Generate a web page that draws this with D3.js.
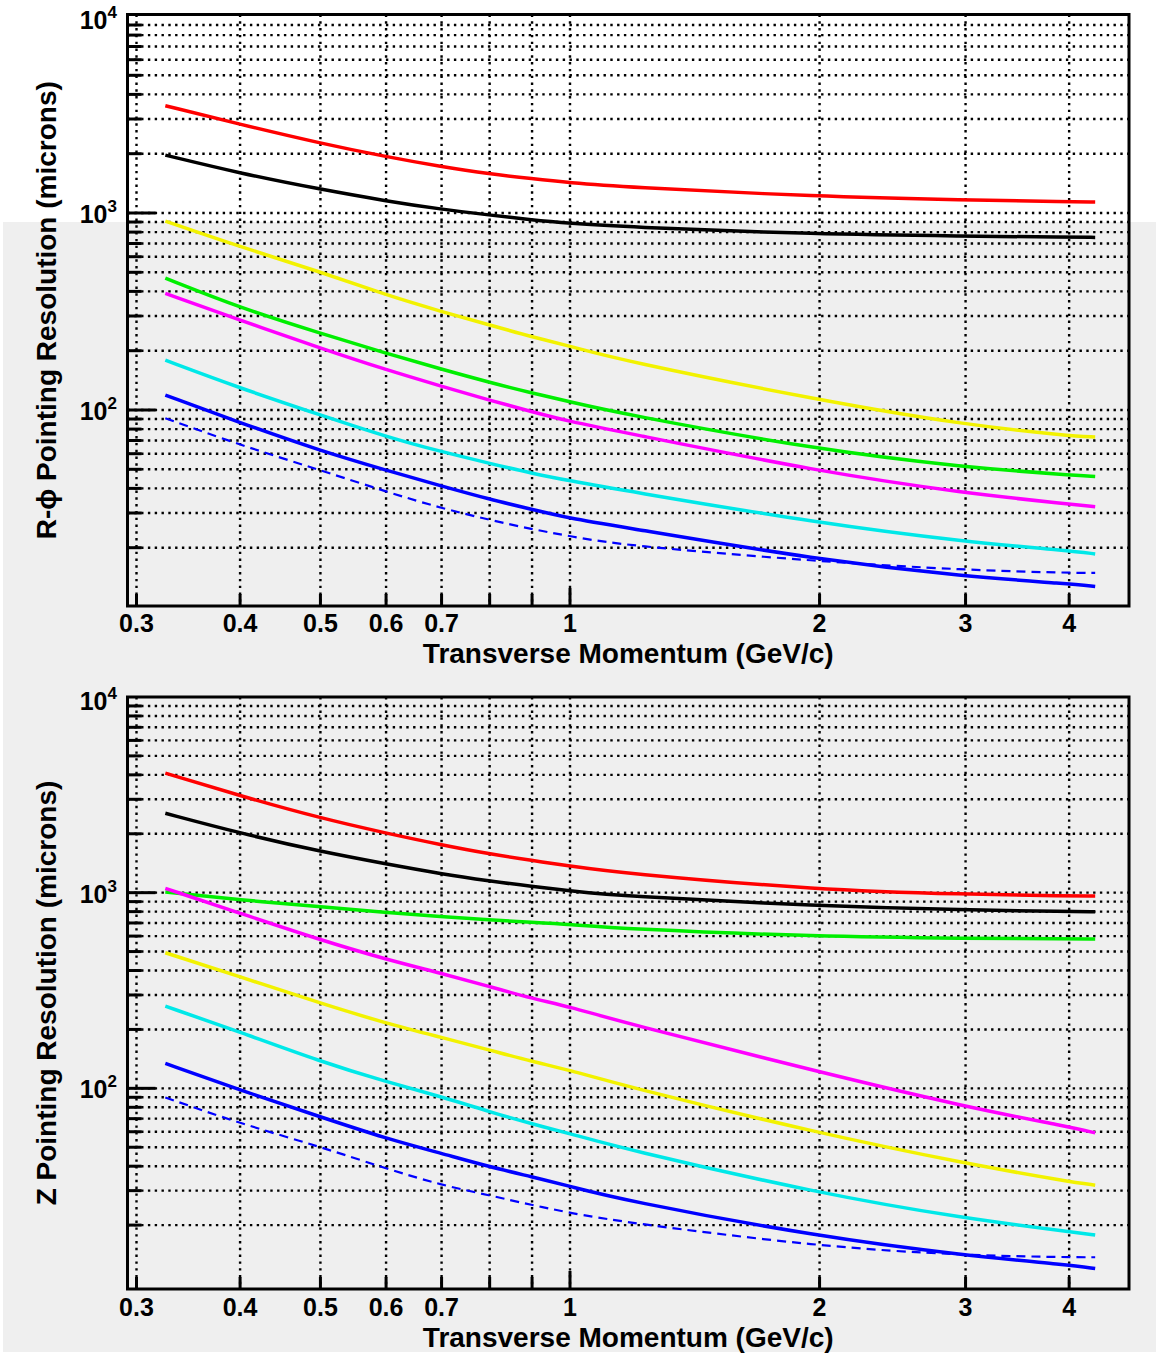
<!DOCTYPE html>
<html><head><meta charset="utf-8">
<script src="https://cdn.jsdelivr.net/npm/d3@7"></script>
<style>html,body{margin:0;padding:0;background:#fff}svg{display:block}</style>
</head><body>
<script>
// ---- data ----
const pT = [0.325, 0.4, 0.5, 0.6, 0.7, 0.8, 0.9, 1.0, 1.15, 2, 3, 4, 4.3];
const xTickValues = [0.3, 0.4, 0.5, 0.6, 0.7, 0.8, 0.9, 1, 2, 3, 4];
const xTickLabels = ["0.3", "0.4", "0.5", "0.6", "0.7", "", "", "1", "2", "3", "4"];
const yDecades = [100, 1000, 10000];
const yDecadeExp = ["2", "3", "4"];

// R-phi panel
const rphiRed     = [3505, 2820, 2260, 1930, 1718, 1578, 1493, 1426, 1360, 1210, 1164, 1140, 1138];
const rphiBlack   = [1967, 1590, 1319, 1151, 1044, 977, 922, 887, 852, 779, 764, 753, 752];
const rphiYellow  = [910, 674, 503, 383, 316, 270, 235, 211, 179, 112, 84, 74, 73];
const rphiGreen   = [467, 330, 245, 194, 161, 138, 122, 110, 96, 62.6, 51.2, 46.8, 46];
const rphiMagenta = [391, 286, 206, 160, 132, 112, 98, 87.3, 77.6, 48.6, 37.8, 33.3, 32.3];
const rphiCyan    = [179, 129, 94.4, 73.2, 61.4, 53.6, 47.7, 43.7, 39.3, 26.6, 21.4, 19.3, 18.6];
const rphiBlue    = [119, 86.2, 62.1, 49.5, 41.1, 35.2, 31.3, 28.2, 25.6, 17.3, 14.3, 13.1, 12.7];
const rphiBlueDash= [90.8, 66.4, 49.5, 38.5, 31.7, 27.7, 24.8, 22.9, 20.6, 17.0, 15.4, 14.9, 14.9];

// Z panel
const zRed     = [4083, 3126, 2404, 2015, 1755, 1578, 1459, 1370, 1260, 1032, 981, 962, 962];
const zBlack   = [2546, 2014, 1622, 1403, 1247, 1148, 1074, 1024, 960, 856, 815, 800, 800];
const zGreen   = [1008, 918, 848, 790, 754, 725, 706, 689, 655, 596, 584, 580, 580];
const zMagenta = [1052, 785, 573, 456, 387, 331, 288, 261, 219, 121, 80.4, 63.5, 59.2];
const zYellow  = [493, 372, 272, 215, 182, 157, 137, 124, 104, 58.8, 41.3, 33.3, 32.0];
const zCyan    = [263, 194, 137, 108, 90.5, 75.9, 65.7, 58.8, 49.5, 29.0, 21.6, 18.5, 17.8];
const zBlue    = [134, 97.9, 71.5, 55.4, 46.5, 39.7, 35.3, 31.6, 27.0, 17.4, 14.0, 12.5, 12.0];
const zBlueDash= [89.8, 66.1, 50.3, 38.9, 32.0, 28.4, 25.3, 23.1, 20.8, 15.5, 14.0, 13.7, 13.7];

const panels = [
  { title: "R-\u03D5 Pointing Resolution (microns)",
    series: [
      {v: rphiRed, c: "#ff0000"}, {v: rphiBlack, c: "#000000"}, {v: rphiYellow, c: "#f2f200"},
      {v: rphiGreen, c: "#00ee00"}, {v: rphiMagenta, c: "#ff00ff"}, {v: rphiCyan, c: "#00e8e8"},
      {v: rphiBlue, c: "#0000ff"}, {v: rphiBlueDash, c: "#0000ff", dash: true}],
    yRange: [607, 16], frameTop: 14.5, frameBottom: 606, tickDy: 26, titleDy: 57 },
  { title: "Z Pointing Resolution (microns)",
    series: [
      {v: zRed, c: "#ff0000"}, {v: zBlack, c: "#000000"}, {v: zGreen, c: "#00ee00"},
      {v: zMagenta, c: "#ff00ff"}, {v: zYellow, c: "#f2f200"}, {v: zCyan, c: "#00e8e8"},
      {v: zBlue, c: "#0000ff"}, {v: zBlueDash, c: "#0000ff", dash: true}],
    yRange: [1284, 697], frameTop: 697, frameBottom: 1289, tickDy: 27, titleDy: 58 }
];

const W = 1156, H = 1356;
const svg = d3.select("body").append("svg").attr("width", W).attr("height", H);
svg.append("rect").attr("width", W).attr("height", H).attr("fill", "#ffffff");
svg.append("rect").attr("x", 3).attr("y", 222).attr("width", W - 3).attr("height", 1130).attr("fill", "#efefef");

const x = d3.scaleLog().domain([0.3, 1]).range([136.5, 570]);
const frameL = 127.5, frameR = 1129;
const font = "'Liberation Sans', Arial, Helvetica, sans-serif";

// minor y values
const yMinor = [];
[10, 100, 1000].forEach(d => { for (let m = 2; m <= 9; m++) yMinor.push(m * d); });

panels.forEach(p => {
  const y = d3.scaleLog().domain([10, 10000]).range(p.yRange);
  const g = svg.append("g");

  // grid
  const grid = g.append("g").attr("stroke", "#000").attr("stroke-width", 2.4).attr("stroke-dasharray", "2.4,4.4").attr("fill", "none");
  yMinor.concat([100, 1000]).forEach(v => {
    grid.append("line").attr("x1", frameL).attr("x2", frameR).attr("y1", y(v)).attr("y2", y(v));
  });
  xTickValues.forEach(v => {
    grid.append("line").attr("x1", x(v)).attr("x2", x(v)).attr("y1", p.frameTop).attr("y2", p.frameBottom);
  });

  // curves
  const line = d3.line().x((d, i) => x(pT[i])).y(d => y(d)).curve(d3.curveBasis);
  p.series.forEach(s => {
    g.append("path").datum(s.v).attr("d", line).attr("fill", "none")
      .attr("stroke", s.c).attr("stroke-width", s.dash ? 2.2 : 3.5)
      .attr("stroke-dasharray", s.dash ? "9,6" : null)
      .attr("stroke-linecap", "butt");
  });

  // frame
  g.append("rect").attr("x", frameL).attr("y", p.frameTop).attr("width", frameR - frameL)
    .attr("height", p.frameBottom - p.frameTop).attr("fill", "none").attr("stroke", "#000").attr("stroke-width", 3);

  // y ticks
  const ticks = g.append("g").attr("stroke", "#000").attr("stroke-width", 3);
  yMinor.forEach(v => ticks.append("line").attr("x1", frameL).attr("x2", frameL + 14).attr("y1", y(v)).attr("y2", y(v)));
  [100, 1000].forEach(v => ticks.append("line").attr("x1", frameL).attr("x2", frameL + 28).attr("y1", y(v)).attr("y2", y(v)));
  // x ticks
  xTickValues.forEach(v => ticks.append("line").attr("x1", x(v)).attr("x2", x(v))
    .attr("y1", p.frameBottom).attr("y2", p.frameBottom - (v === 1 ? 18 : 12)));

  // y tick labels
  yDecades.forEach((v, i) => {
    const t = g.append("text").attr("x", 117).attr("y", y(v) + (v === 10000 ? 13 : 10))
      .attr("text-anchor", "end").attr("font-family", font).attr("font-weight", "bold").attr("font-size", 25);
    t.append("tspan").text("10");
    t.append("tspan").attr("dy", -11).attr("font-size", 17).text(yDecadeExp[i]);
  });

  // x tick labels
  xTickValues.forEach((v, i) => {
    if (!xTickLabels[i]) return;
    g.append("text").attr("x", x(v)).attr("y", p.frameBottom + p.tickDy).attr("text-anchor", "middle")
      .attr("font-family", font).attr("font-weight", "bold").attr("font-size", 25).text(xTickLabels[i]);
  });

  // axis titles
  g.append("text").attr("x", (frameL + frameR) / 2).attr("y", p.frameBottom + p.titleDy).attr("text-anchor", "middle")
    .attr("font-family", font).attr("font-weight", "bold").attr("font-size", 28).text("Transverse Momentum (GeV/c)");
  const cy = (p.frameTop + p.frameBottom) / 2;
  g.append("text").attr("transform", `translate(56,${cy}) rotate(-90)`).attr("text-anchor", "middle")
    .attr("font-family", font).attr("font-weight", "bold").attr("font-size", 28).text(p.title);
});
</script>
</body></html>
